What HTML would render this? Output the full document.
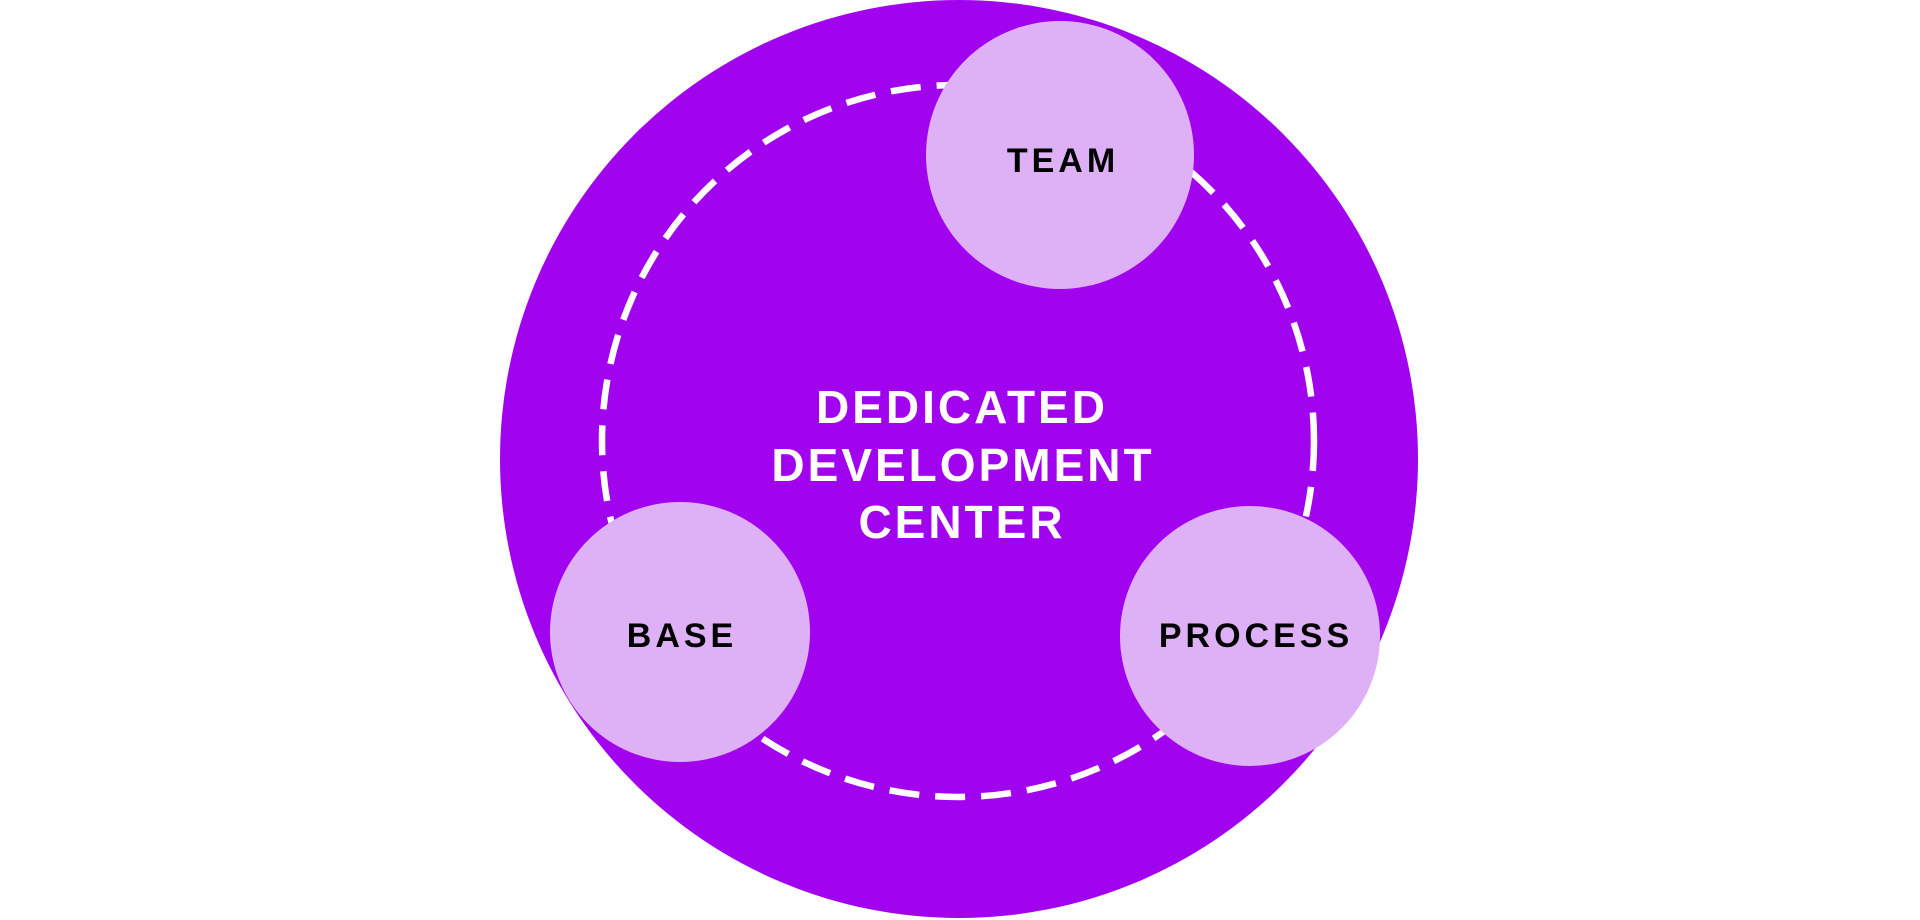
<!DOCTYPE html>
<html><head><meta charset="utf-8"><style>
html,body{margin:0;padding:0;background:#fff;}
svg{display:block;}
text{font-family:"Liberation Sans",sans-serif;font-weight:bold;}
</style></head><body>
<svg width="1920" height="920" viewBox="0 0 1920 920" xmlns="http://www.w3.org/2000/svg">
<circle cx="959" cy="459" r="459" fill="#a203ef"/>
<circle cx="958" cy="441" r="356" fill="none" stroke="#fff" stroke-width="6.5" stroke-dasharray="30 16"/>
<circle cx="1060" cy="155" r="134" fill="#deb1f6"/>
<circle cx="680" cy="632" r="130" fill="#deb1f6"/>
<circle cx="1250" cy="636" r="130" fill="#deb1f6"/>
<g fill="#fff" font-size="46" letter-spacing="3" text-anchor="middle">
<text x="962" y="423">DEDICATED</text>
<text x="963" y="481">DEVELOPMENT</text>
<text x="962" y="538">CENTER</text>
</g>
<g fill="#000" font-size="34" letter-spacing="4" text-anchor="middle">
<text x="1063" y="172">TEAM</text>
<text x="682" y="647">BASE</text>
<text x="1256" y="647">PROCESS</text>
</g>
</svg>
</body></html>
